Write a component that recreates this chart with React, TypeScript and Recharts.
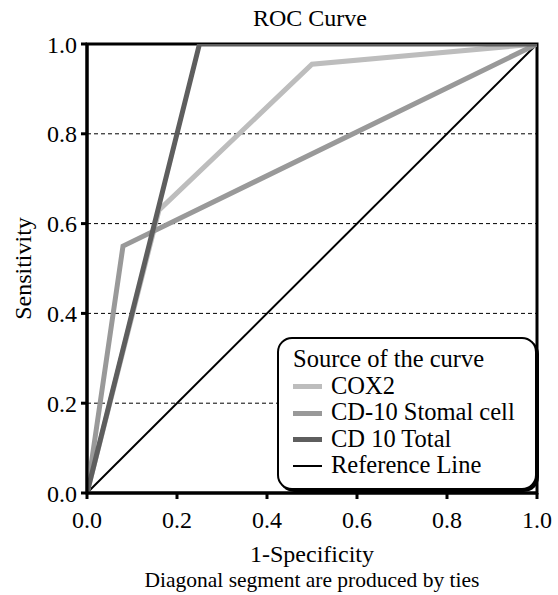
import React from 'react';
import { LineChart, Line, XAxis, YAxis, ReferenceLine, ReferenceArea } from 'recharts';

// ---- data ----
const cox2X = [0, 0.16, 0.5, 1];
const cox2Y = [0, 0.63, 0.955, 1];
const stromalX = [0, 0.08, 1];
const stromalY = [0, 0.55, 1];
const totalX = [0, 0.25, 1];
const totalY = [0, 1, 1];
const refX = [0, 1];
const refY = [0, 1];

const xTicks = [0, 0.2, 0.4, 0.6, 0.8, 1.0];
const yTicks = [0, 0.2, 0.4, 0.6, 0.8, 1.0];
const gridValues = [0.2, 0.4, 0.6, 0.8];

const seriesNames = ['COX2', 'CD-10 Stomal cell', 'CD 10 Total', 'Reference Line'];
const seriesColors = ['#bdbdbd', '#999999', '#5e5e5e', '#000000'];

const toPoints = (xs: number[], ys: number[]) => xs.map((x, i) => ({ x, y: ys[i] }));

const cox2Data = toPoints(cox2X, cox2Y);
const stromalData = toPoints(stromalX, stromalY);
const totalData = toPoints(totalX, totalY);
const refData = toPoints(refX, refY);

const FONT = "'Liberation Serif', 'DejaVu Serif', serif";

const fmt = (v: number) => v.toFixed(1);

const XLabel = (props: any) => {
  const vb = props.viewBox || {};
  const cx = vb.x + vb.width / 2;
  return (
    <g>
      <text x={cx} y={562} textAnchor="middle" style={{ fontFamily: FONT }} fontSize={24} fill="#000">
        1-Specificity
      </text>
      <text x={cx} y={587} textAnchor="middle" style={{ fontFamily: FONT }} fontSize={21.5} fill="#000">
        Diagonal segment are produced by ties
      </text>
    </g>
  );
};

const YLabel = (props: any) => {
  const vb = props.viewBox || {};
  const x = 23;
  const y = vb.y + vb.height / 2;
  return (
    <text
      x={x}
      y={y}
      textAnchor="middle"
      dominantBaseline="central"
      transform={`rotate(-90 ${x} ${y})`}
      style={{ fontFamily: FONT }}
      fontSize={24}
      fill="#000"
    >
      Sensitivity
    </text>
  );
};

export default function App() {
  return (
    <div style={{ position: 'absolute', left: 0, top: 0, width: 558, height: 595, background: '#fff', fontFamily: FONT }}>
      <div
        style={{
          position: 'absolute',
          left: 0,
          top: 6,
          width: 620,
          textAlign: 'center',
          fontSize: 24,
          lineHeight: '24px',
          color: '#000',
          zIndex: 2,
        }}
      >
        ROC Curve
      </div>
      <LineChart width={558} height={595} margin={{ top: 44, right: 21, left: 0, bottom: 0 }} style={{ fontFamily: FONT }}>
        <XAxis
          type="number"
          dataKey="x"
          domain={[0, 1]}
          ticks={xTicks}
          tickFormatter={fmt}
          allowDataOverflow
          height={102}
          stroke="#000"
          strokeWidth={3}
          tickSize={6}
          tickMargin={12}
          tick={{ fontSize: 24, fill: '#000', style: { fontFamily: FONT } }}
          label={<XLabel />}
        />
        <YAxis
          type="number"
          dataKey="y"
          domain={[0, 1]}
          ticks={yTicks}
          tickFormatter={fmt}
          allowDataOverflow
          width={87}
          stroke="#000"
          strokeWidth={3}
          tickSize={6}
          tickMargin={4}
          tick={{ fontSize: 24, fill: '#000', style: { fontFamily: FONT } }}
          label={<YLabel />}
        />
        <ReferenceArea x1={0} x2={1} y1={0} y2={1} fill="none" stroke="#000" strokeWidth={3} fillOpacity={0} />
        {gridValues.map((v) => (
          <ReferenceLine key={v} y={v} stroke="#000" strokeWidth={1} strokeDasharray="4 3" />
        ))}
        <Line data={refData} dataKey="y" stroke={seriesColors[3]} strokeWidth={2} dot={false} isAnimationActive={false} name={seriesNames[3]} />
        <Line data={cox2Data} dataKey="y" stroke={seriesColors[0]} strokeWidth={5} dot={false} isAnimationActive={false} name={seriesNames[0]} />
        <Line data={stromalData} dataKey="y" stroke={seriesColors[1]} strokeWidth={5} dot={false} isAnimationActive={false} name={seriesNames[1]} />
        <Line data={totalData} dataKey="y" stroke={seriesColors[2]} strokeWidth={5} dot={false} isAnimationActive={false} name={seriesNames[2]} />
      </LineChart>
      <div
        style={{
          position: 'absolute',
          left: 277,
          top: 337,
          width: 256,
          height: 149,
          border: '2px solid #000',
          borderRadius: 15,
          boxShadow: '2px 2px 0 #000',
          background: '#fff',
          zIndex: 3,
          boxSizing: 'content-box',
        }}
      >
        <div style={{ position: 'absolute', left: 14, top: 7, fontSize: 24.5, lineHeight: '26.5px', whiteSpace: 'nowrap' }}>
          Source of the curve
        </div>
        {seriesNames.map((n, i) => (
          <div
            key={n}
            style={{
              position: 'absolute',
              left: 14,
              top: 7 + 26.5 * (i + 1),
              height: 26.5,
              display: 'flex',
              alignItems: 'center',
              fontSize: 24.5,
              lineHeight: '26.5px',
              whiteSpace: 'nowrap',
            }}
          >
            <span
              style={{
                display: 'inline-block',
                width: 29,
                height: i === 3 ? 2 : 5,
                background: seriesColors[i],
                marginRight: 9,
                marginTop: 2,
              }}
            />
            <span>{n}</span>
          </div>
        ))}
      </div>
    </div>
  );
}
